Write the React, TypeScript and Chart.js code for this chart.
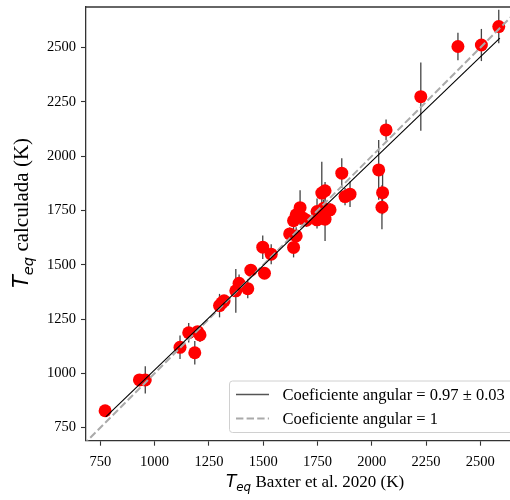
import React, { useEffect, useRef } from "react";
import { Chart, registerables } from "chart.js";

Chart.register(...registerables);

// ---- data ----
const xBaxter = [772, 930, 957, 1117, 1157, 1198, 1209, 1185, 1299, 1310, 1320, 1374, 1389, 1429, 1443, 1498, 1506, 1537, 1622, 1652, 1640, 1640, 1652, 1670, 1685, 1700, 1748, 1748, 1770, 1785, 1778, 1785, 1808, 1862, 1877, 1900, 2032, 2050, 2047, 2066, 2226, 2397, 2505, 2585];
const yCalc = [828, 970, 970, 1120, 1187, 1192, 1177, 1095, 1312, 1325, 1334, 1380, 1415, 1390, 1475, 1581, 1461, 1549, 1642, 1633, 1580, 1703, 1730, 1763, 1714, 1705, 1745, 1707, 1830, 1841, 1760, 1710, 1753, 1922, 1814, 1825, 1937, 1832, 1765, 2121, 2274, 2505, 2512, 2597];
const yErr = [20, 20, 63, 54, 45, 25, 33, 54, 54, 25, 25, 101, 40, 44, 25, 54, 20, 46, 30, 40, 46, 40, 45, 80, 40, 30, 60, 40, 144, 40, 40, 100, 30, 69, 40, 59, 138, 100, 101, 48, 157, 63, 74, 77];

const fitX = [775, 2590];
const fitY = [800, 2544];
const refX = [600, 2800];
const refY = [600, 2800];

const xTicks = [750, 1000, 1250, 1500, 1750, 2000, 2250, 2500];
const yTicks = [750, 1000, 1250, 1500, 1750, 2000, 2250, 2500];

const legendLabels = ["Coeficiente angular = 0.97 \u00b1 0.03", "Coeficiente angular = 1"];
const xTitleRest = " Baxter et al. 2020 (K)";
const yTitleRest = " calculada (K)";

const X_MIN = 684;
const X_MAX = 2681;
const Y_MIN = 690;
const Y_MAX = 2687;

const W = 540;
const H = 500;
const SERIF = '"Liberation Serif", "Times New Roman", serif';
const MATH = '"DejaVu Sans", sans-serif';

function drawMathLabel(ctx: CanvasRenderingContext2D, rest: string, size: number) {
  const fT = `italic ${size}px ${MATH}`;
  const fS = `italic ${size * 0.7}px ${MATH}`;
  const fR = `${size}px ${SERIF}`;
  ctx.font = fT;
  const wT = ctx.measureText("T").width;
  ctx.font = fS;
  const wS = ctx.measureText("eq").width;
  ctx.font = fR;
  const wR = ctx.measureText(rest).width;
  const total = wT + wS + wR;
  let x = -total / 2;
  ctx.fillStyle = "#000";
  ctx.textBaseline = "alphabetic";
  ctx.textAlign = "left";
  ctx.font = fT;
  ctx.fillText("T", x, 0);
  x += wT;
  ctx.font = fS;
  ctx.fillText("eq", x, size * 0.22);
  x += wS;
  ctx.font = fR;
  ctx.fillText(rest, x, 0);
}

const extrasPlugin = {
  id: "extras",
  beforeDatasetsDraw(chart: any) {
    const ctx = chart.ctx as CanvasRenderingContext2D;
    const xs = chart.scales.x;
    const ys = chart.scales.y;
    ctx.save();
    ctx.strokeStyle = "#444";
    ctx.lineWidth = 1.3;
    for (let i = 0; i < xBaxter.length; i++) {
      const px = xs.getPixelForValue(xBaxter[i]);
      const p1 = ys.getPixelForValue(yCalc[i] - yErr[i]);
      const p2 = ys.getPixelForValue(yCalc[i] + yErr[i]);
      ctx.beginPath();
      ctx.moveTo(px, p1);
      ctx.lineTo(px, p2);
      ctx.stroke();
    }
    ctx.restore();
  },
  afterDraw(chart: any) {
    const ctx = chart.ctx as CanvasRenderingContext2D;
    const a = chart.chartArea;
    ctx.save();
    // top spine
    ctx.strokeStyle = "#333";
    ctx.lineWidth = 1.3;
    ctx.beginPath();
    ctx.moveTo(a.left, a.top);
    ctx.lineTo(a.right, a.top);
    ctx.stroke();

    // legend box
    const bx = 229.5, by = 381, bw = 290, bh = 51.5;
    ctx.fillStyle = "rgba(255,255,255,0.8)";
    ctx.strokeStyle = "#d0d0d0";
    ctx.lineWidth = 1;
    ctx.beginPath();
    (ctx as any).roundRect(bx, by, bw, bh, 3);
    ctx.fill();
    ctx.stroke();

    const rows = [394.5, 418.5];
    // solid sample
    ctx.strokeStyle = "#555";
    ctx.lineWidth = 1.3;
    ctx.setLineDash([]);
    ctx.beginPath();
    ctx.moveTo(236, rows[0]);
    ctx.lineTo(269, rows[0]);
    ctx.stroke();
    // dashed sample
    ctx.strokeStyle = "#aaaaaa";
    ctx.lineWidth = 2;
    ctx.setLineDash([7.4, 3.2]);
    ctx.beginPath();
    ctx.moveTo(236, rows[1]);
    ctx.lineTo(269, rows[1]);
    ctx.stroke();
    ctx.setLineDash([]);

    ctx.fillStyle = "#000";
    ctx.font = `16.5px ${SERIF}`;
    ctx.textAlign = "left";
    ctx.textBaseline = "middle";
    ctx.fillText(legendLabels[0], 282.5, rows[0] + 1);
    ctx.fillText(legendLabels[1], 282.5, rows[1] + 1);

    // axis titles
    ctx.save();
    ctx.translate(315, 487);
    drawMathLabel(ctx, xTitleRest, 17);
    ctx.restore();

    ctx.save();
    ctx.translate(28, 213);
    ctx.rotate(-Math.PI / 2);
    drawMathLabel(ctx, yTitleRest, 21);
    ctx.restore();

    ctx.restore();
  },
};

export default function App() {
  const ref = useRef<HTMLCanvasElement | null>(null);

  useEffect(() => {
    if (!ref.current) return;
    const points = xBaxter.map((x, i) => ({ x, y: yCalc[i] }));
    const fit = fitX.map((x, i) => ({ x, y: fitY[i] }));
    const refLine = refX.map((x, i) => ({ x, y: refY[i] }));

    const tickFont = { family: SERIF, size: 14.5 };

    const chart = new Chart(ref.current, {
      type: "scatter",
      data: {
        datasets: [
          {
            label: "data",
            data: points,
            backgroundColor: "#ff0000",
            borderColor: "#ff0000",
            borderWidth: 0,
            pointRadius: 6.5,
            order: 3,
          },
          {
            label: legendLabels[1],
            data: refLine,
            showLine: true,
            borderColor: "#aaaaaa",
            borderWidth: 2,
            borderDash: [7.4, 3.2],
            pointRadius: 0,
            order: 1,
          },
          {
            label: legendLabels[0],
            data: fit,
            showLine: true,
            borderColor: "#000000",
            borderWidth: 1.1,
            pointRadius: 0,
            order: 0,
          },
        ],
      },
      options: {
        animation: false,
        responsive: false,
        events: [],
        layout: { padding: { left: 0, top: 7, right: W - 519.6, bottom: 0 } },
        plugins: { legend: { display: false }, tooltip: { enabled: false }, title: { display: false } },
        scales: {
          x: {
            type: "linear",
            min: X_MIN,
            max: X_MAX,
            afterBuildTicks: (s: any) => {
              s.ticks = xTicks.map((v) => ({ value: v }));
            },
            afterFit: (s: any) => {
              s.height = H - 440.7;
              s.paddingLeft = 0;
              s.paddingRight = 0;
            },
            ticks: {
              font: tickFont,
              color: "#000",
              padding: 8,
              maxRotation: 0,
              autoSkip: false,
              callback: (v: any) => String(v),
            },
            grid: { drawOnChartArea: false, drawTicks: true, tickLength: 5, color: "#333", tickWidth: 1.1 },
            border: { display: true, color: "#333", width: 1.3 },
          },
          y: {
            type: "linear",
            min: Y_MIN,
            max: Y_MAX,
            afterBuildTicks: (s: any) => {
              s.ticks = yTicks.map((v) => ({ value: v }));
            },
            afterFit: (s: any) => {
              s.width = 86;
              s.paddingTop = 0;
              s.paddingBottom = 0;
            },
            ticks: {
              font: tickFont,
              color: "#000",
              padding: 5,
              autoSkip: false,
              callback: (v: any) => String(v),
            },
            grid: { drawOnChartArea: false, drawTicks: true, tickLength: 5, color: "#333", tickWidth: 1.1 },
            border: { display: true, color: "#333", width: 1.3 },
          },
        },
      },
      plugins: [extrasPlugin],
    });
    return () => chart.destroy();
  }, []);

  return (
    <div style={{ position: "absolute", left: 0, top: 0, width: 510, height: 500, overflow: "hidden", background: "#fff" }}>
      <canvas ref={ref} width={W} height={H} style={{ width: W, height: H, display: "block" }} />
    </div>
  );
}
